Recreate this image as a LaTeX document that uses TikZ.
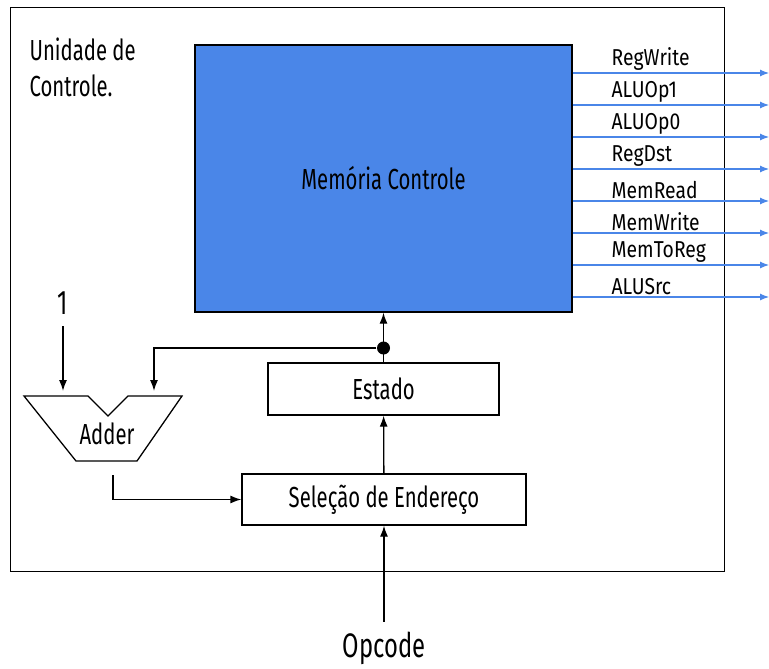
\documentclass[tikz,border=0pt]{standalone}
\usepackage{fontspec}
\setmainfont{Fira Sans}[FakeStretch=0.7]
\newfontfamily\siglabelfont{Fira Sans}[FakeStretch=0.84]
\usepackage{tikz}
\usetikzlibrary{arrows.meta, positioning}
\definecolor{ctrlblue}{HTML}{4A86E8}

\begin{document}
\begin{tikzpicture}[
          x=1pt, y=-1pt, line width=1.3pt,
          font=\fontsize{29}{36}\selectfont,
          box/.style={draw, minimum width=231pt, minimum height=52pt},
          memory/.style={draw, fill=ctrlblue, minimum width=377pt, minimum height=267pt},
          sig/.style={draw=ctrlblue, line width=1.1pt, -{Latex[length=9pt, width=7pt]}},
          siglabel/.style={anchor=south west, inner sep=2pt, font=\siglabelfont\fontsize{23}{28}\selectfont},
          big/.style={font=\fontsize{34}{40}\selectfont},
          dot/.style={circle, fill, inner sep=0pt, minimum size=13pt},
          arr/.style={-{Latex[length=11pt, width=8pt]}}
        ]
          \useasboundingbox (0,0) rectangle (769,669);
          \node[draw, anchor=north west, minimum width=714pt, minimum height=564pt] (unit) at (10,7) {};
          \node[align=left, anchor=north west, inner sep=0pt] (title) at (29,37) {Unidade de\\Controle.};
          \node[memory] (mem) at (383.5,178.5) {Memória Controle};
          \foreach \name [count=\i] in {RegWrite, ALUOp1, ALUOp0, RegDst, MemRead, MemWrite, MemToReg, ALUSrc} {
            \coordinate (out\i) at (769, 41+32*\i);
            \draw[sig] (mem.east |- out\i) -- (out\i);
            \node[siglabel] (lbl\i) at (609, 41+32*\i) {\name};
          }
          \node[box] (state) at (383.5,389) {Estado};
          \node[box, minimum width=284pt, minimum height=51pt] (sel) at (384,499.5) {Seleção de Endereço};
          \draw (24,396) -- (88,396) -- (108,416) -- (128,396) -- (182,396) -- (137,461) -- (76,461) -- cycle;
          \node (adder) at (107,434) {Adder};
          \node[big] (one) at (63,303) {1};
          \coordinate (addA) at (63,391);
          \coordinate (addB) at (154,391);
          \coordinate (addOut) at (113,475);
          \node[dot] (split) at (383.5,348) {};
          \node[big] (opcode) at (384,648) {Opcode};
          \draw[arr] (state) -- (mem);
          \draw[arr] (split) -| (addB);
          \draw[arr, shorten <=8pt] (one) -- (addA);
          \draw[arr] (addOut) |- (sel);
          \draw[arr] (sel) -- (state);
          \draw[arr, shorten <=6pt] (opcode) -- (sel);
        \end{tikzpicture}
\end{document}
